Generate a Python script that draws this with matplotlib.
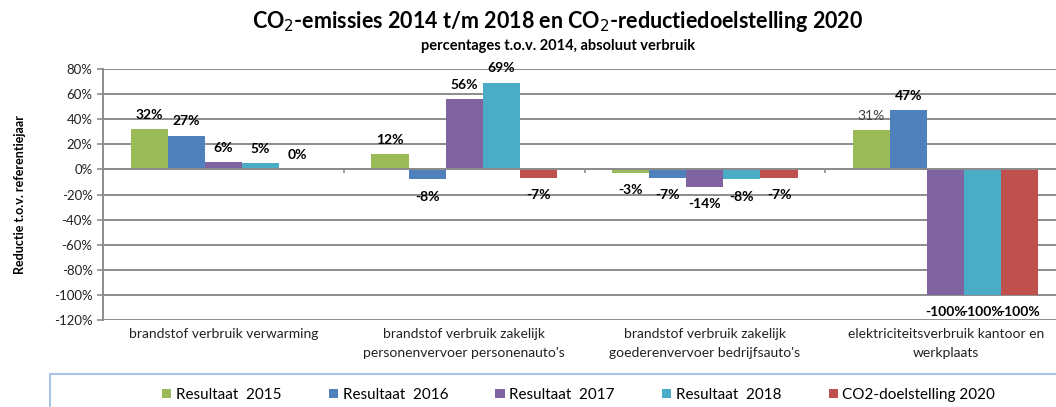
import numpy as np
import matplotlib.pyplot as plt
from matplotlib.patches import Rectangle

plt.rcParams['font.family'] = ['Lato', 'DejaVu Sans']

categories = ["brandstof verbruik verwarming",
              "brandstof verbruik zakelijk\npersonenvervoer personenauto's",
              "brandstof verbruik zakelijk\ngoederenvervoer bedrijfsauto's",
              "elektriciteitsverbruik kantoor en\nwerkplaats"]
series_names = ["Resultaat  2015", "Resultaat  2016", "Resultaat  2017",
                "Resultaat  2018", "CO2-doelstelling 2020"]
res_2015 = [32, 12, -3, 31]
res_2016 = [27, -8, -7, 47]
res_2017 = [6, 56, -14, -100]
res_2018 = [5, 69, -8, -100]
doel_2020 = [0, -7, -7, -100]
series = [res_2015, res_2016, res_2017, res_2018, doel_2020]
yticks = [80, 60, 40, 20, 0, -20, -40, -60, -80, -100, -120]

colors = ['#9BBB59', '#4F81BD', '#8064A2', '#4BACC6', '#C0504D']

fig = plt.figure(figsize=(10.56, 4.07), dpi=100)
ax = fig.add_axes([103 / 1056, 1 - 320 / 407, (1066 - 103) / 1056, (320 - 69) / 407])

x = np.arange(len(categories))
w = 0.154
handles = []
for i, (vals, col) in enumerate(zip(series, colors)):
    pos = x + (i - 2) * w
    b = ax.bar(pos, vals, w, color=col, zorder=3, label=series_names[i])
    handles.append(b)
    for xp, v in zip(pos, vals):
        # the 2015 label in the last group is plain, as in the source
        plain = (i == 0 and xp > 2.5)
        if v >= 0:
            ax.annotate(f"{v}%", (xp, v), xytext=(0, 6), textcoords='offset points',
                        ha='center', va='bottom', fontsize=10,
                        fontweight='normal' if plain else 'bold',
                        color='#404040' if plain else 'black')
        else:
            ax.annotate(f"{v}%", (xp, v), xytext=(0, -8), textcoords='offset points',
                        ha='center', va='top', fontsize=10, fontweight='bold')

ax.set_xlim(-0.5, 3.5)
ax.set_ylim(-120, 80)
ax.set_yticks(yticks)
ax.set_yticklabels([f"{t}%" for t in yticks], fontsize=9.5, color='#222222')
ax.yaxis.grid(True, color='#8c8c8c', linewidth=1.4, zorder=0)
ax.set_xticks([])
for s in ['top', 'right', 'bottom']:
    ax.spines[s].set_visible(False)
ax.spines['left'].set_color('#8c8c8c')
ax.spines['left'].set_linewidth(1.4)
ax.tick_params(axis='y', length=4, color='#8c8c8c', width=1.2)
ax.axhline(0, color='#8c8c8c', linewidth=1.4, zorder=4)
ax.vlines([0.5, 1.5, 2.5], -3, 0, color='#8c8c8c', linewidth=1.2, zorder=4)

for xi, lab in zip(x, categories):
    ax.text(xi, -126, lab, ha='center', va='top', fontsize=10, color='#222222',
            linespacing=1.7)

ax.set_ylabel("Reductie t.o.v. referentiejaar", fontsize=9, fontweight='bold', labelpad=20)

fig.text(0.528, 0.948, "CO$_2$-emissies 2014 t/m 2018 en CO$_2$-reductiedoelstelling 2020",
         ha='center', va='center', fontsize=15.5, fontweight='bold')
fig.text(0.528, 0.888, "percentages t.o.v. 2014, absoluut verbruik",
         ha='center', va='center', fontsize=10.5, fontweight='bold')

fig.patches.append(Rectangle((50 / 1056, -0.05), 1.1, 1 - 374 / 407 + 0.05,
                             transform=fig.transFigure, fill=False,
                             edgecolor='#a9c4e4', linewidth=1.5))
fig.legend(handles, series_names, loc='center', bbox_to_anchor=(0.548, 1 - 395 / 407),
           ncol=5, frameon=False, fontsize=11, handlelength=0.6, handleheight=0.6,
           handletextpad=0.3, columnspacing=3.1)

fig.savefig('out.png', dpi=100)
